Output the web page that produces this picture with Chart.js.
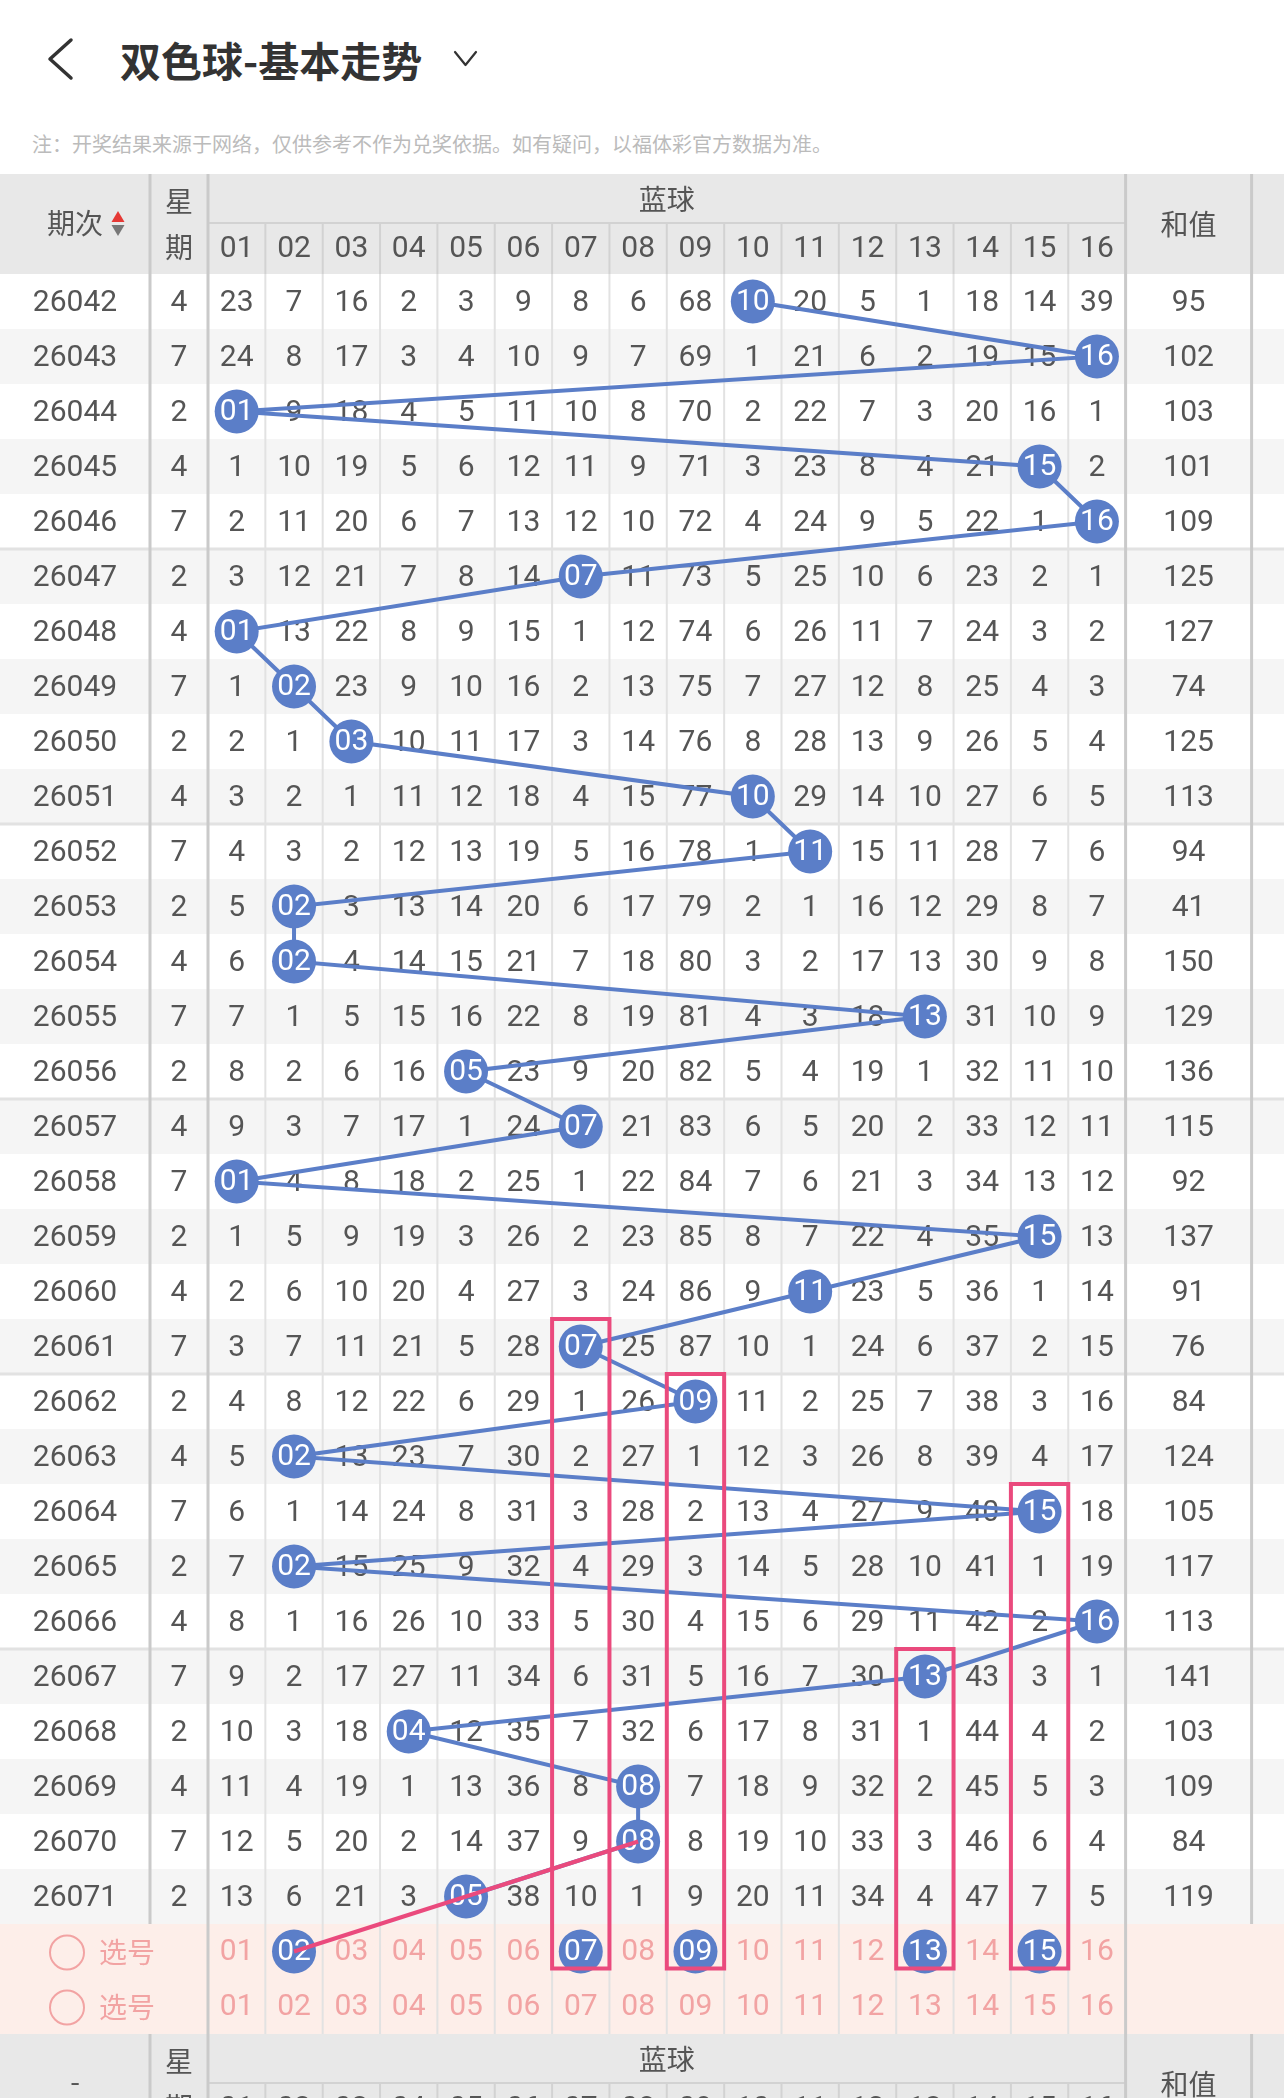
<!DOCTYPE html>
<html>
<head>
<meta charset="utf-8">
<title>双色球-基本走势</title>
<script src="https://cdn.jsdelivr.net/npm/chart.js@4.4.1/dist/chart.umd.min.js"></script>
<style>
  body{margin:0;background:#fff;width:1284px;height:2098px;overflow:hidden;font-family:"Noto Sans CJK SC",sans-serif;}
  #back{position:absolute;left:44px;top:37px;}
  #title{position:absolute;left:120px;top:30px;font-size:41px;font-weight:bold;color:#333;line-height:58px;}
  #arrow{position:absolute;left:452px;top:48px;}
  #note{position:absolute;left:32px;top:130px;font-size:20px;color:#bbb;line-height:28px;white-space:nowrap;}
  #wrap{position:absolute;left:0;top:174px;width:1284px;height:1924px;}
</style>
</head>
<body>
<svg id="back" width="32" height="44"><polyline points="27,3 6,22 27,41" fill="none" stroke="#333" stroke-width="3.5" stroke-linecap="round" stroke-linejoin="round"/></svg>
<div id="title">双色球-基本走势</div>
<svg id="arrow" width="28" height="22"><polyline points="3,4 13.5,17 24,4" fill="none" stroke="#333" stroke-width="2.2" stroke-linecap="round" stroke-linejoin="round"/></svg>
<div id="note">注：开奖结果来源于网络，仅供参考不作为兑奖依据。如有疑问，以福体彩官方数据为准。</div>
<div id="wrap"><canvas id="trend" width="1284" height="1924"></canvas></div>

<script>
var periods = ['26042','26043','26044','26045','26046','26047','26048','26049','26050','26051',
               '26052','26053','26054','26055','26056','26057','26058','26059','26060','26061',
               '26062','26063','26064','26065','26066','26067','26068','26069','26070','26071'];
var weekdays = [4,7,2,4,7,2,4,7,2,4,7,2,4,7,2,4,7,2,4,7,2,4,7,2,4,7,2,4,7,2];
var sums = [95,102,103,101,109,125,127,74,125,113,94,41,150,129,136,115,92,137,91,76,
            84,124,105,117,113,141,103,109,84,119];
// drawn blue ball of each period
var blueBalls = [10,16,1,15,16,7,1,2,3,10,11,2,2,13,5,7,1,15,11,7,9,2,15,2,16,13,4,8,8,5];
// omission values, 0 = the ball itself
var missing = [
  [23,7,16,2,3,9,8,6,68,0,20,5,1,18,14,39],
  [24,8,17,3,4,10,9,7,69,1,21,6,2,19,15,0],
  [0,9,18,4,5,11,10,8,70,2,22,7,3,20,16,1],
  [1,10,19,5,6,12,11,9,71,3,23,8,4,21,0,2],
  [2,11,20,6,7,13,12,10,72,4,24,9,5,22,1,0],
  [3,12,21,7,8,14,0,11,73,5,25,10,6,23,2,1],
  [0,13,22,8,9,15,1,12,74,6,26,11,7,24,3,2],
  [1,0,23,9,10,16,2,13,75,7,27,12,8,25,4,3],
  [2,1,0,10,11,17,3,14,76,8,28,13,9,26,5,4],
  [3,2,1,11,12,18,4,15,77,0,29,14,10,27,6,5],
  [4,3,2,12,13,19,5,16,78,1,0,15,11,28,7,6],
  [5,0,3,13,14,20,6,17,79,2,1,16,12,29,8,7],
  [6,0,4,14,15,21,7,18,80,3,2,17,13,30,9,8],
  [7,1,5,15,16,22,8,19,81,4,3,18,0,31,10,9],
  [8,2,6,16,0,23,9,20,82,5,4,19,1,32,11,10],
  [9,3,7,17,1,24,0,21,83,6,5,20,2,33,12,11],
  [0,4,8,18,2,25,1,22,84,7,6,21,3,34,13,12],
  [1,5,9,19,3,26,2,23,85,8,7,22,4,35,0,13],
  [2,6,10,20,4,27,3,24,86,9,0,23,5,36,1,14],
  [3,7,11,21,5,28,0,25,87,10,1,24,6,37,2,15],
  [4,8,12,22,6,29,1,26,0,11,2,25,7,38,3,16],
  [5,0,13,23,7,30,2,27,1,12,3,26,8,39,4,17],
  [6,1,14,24,8,31,3,28,2,13,4,27,9,40,0,18],
  [7,0,15,25,9,32,4,29,3,14,5,28,10,41,1,19],
  [8,1,16,26,10,33,5,30,4,15,6,29,11,42,2,0],
  [9,2,17,27,11,34,6,31,5,16,7,30,0,43,3,1],
  [10,3,18,0,12,35,7,32,6,17,8,31,1,44,4,2],
  [11,4,19,1,13,36,8,0,7,18,9,32,2,45,5,3],
  [12,5,20,2,14,37,9,0,8,19,10,33,3,46,6,4],
  [13,6,21,3,0,38,10,1,9,20,11,34,4,47,7,5]
];
var ballNums = ['01','02','03','04','05','06','07','08','09','10','11','12','13','14','15','16'];
var selected = [2,7,9,13,15];
var boxCols = [7,9,15,13];
var boxFrom = ['26061','26062','26064','26067'];
var linkFrom = '26070';
var linkTo = 2;

var BLUE = '#5b7ec8';
var PINK = '#ea4a7d';
var SEL_TXT = '#f2a3a3';

// layout (px)
var COLW = 57.35, ROWH = 55;
var W_PERIOD = 150, W_WEEK = 58, W_SUM = 126, W_STRIP = 32.4;
var HEAD_H = 100, HEAD_SPLIT = 49, CANVAS_H = 1924;
var X_WEEK = 0.5 - W_WEEK / COLW;
var X_MIN = X_WEEK - W_PERIOD / COLW;
var X_SUMR = 16.5 + W_SUM / COLW;
var X_MAX = X_SUMR + W_STRIP / COLW;
var Y_MIN = -0.5 - HEAD_H / ROWH;
var Y_MAX = Y_MIN + CANVAS_H / ROWH;
var SEL_ROWS = 2;

function vline(ctx, x, y0, y1, color, w){
  ctx.strokeStyle = color; ctx.lineWidth = w;
  ctx.beginPath(); ctx.moveTo(x, y0); ctx.lineTo(x, y1); ctx.stroke();
}
function hline(ctx, y, x0, x1, color, w){
  ctx.strokeStyle = color; ctx.lineWidth = w;
  ctx.beginPath(); ctx.moveTo(x0, y); ctx.lineTo(x1, y); ctx.stroke();
}

function drawHeader(chart, top, first){
  var ctx = chart.ctx, xs = chart.scales.x;
  var periodC = xs.getPixelForValue((X_MIN + X_WEEK) / 2);
  var weekC = xs.getPixelForValue((X_WEEK + 0.5) / 2);
  var sumC = xs.getPixelForValue((16.5 + X_SUMR) / 2);
  var gridC = xs.getPixelForValue(8.5);
  ctx.fillStyle = '#555';
  ctx.textAlign = 'center';
  ctx.textBaseline = 'middle';
  ctx.font = '28px "Noto Sans CJK SC"';
  if (first) {
    ctx.fillText('期次', periodC, top + 49);
    var tx = periodC + 43;
    ctx.fillStyle = '#e53935';
    ctx.beginPath(); ctx.moveTo(tx, top + 37); ctx.lineTo(tx + 6.5, top + 48); ctx.lineTo(tx - 6.5, top + 48); ctx.fill();
    ctx.fillStyle = '#777';
    ctx.beginPath(); ctx.moveTo(tx - 6.5, top + 51); ctx.lineTo(tx + 6.5, top + 51); ctx.lineTo(tx, top + 62); ctx.fill();
    ctx.fillStyle = '#555';
  } else {
    ctx.fillText('-', periodC, top + 47);
  }
  ctx.fillText('星', weekC, top + 27);
  ctx.fillText('期', weekC, top + 73);
  ctx.fillText('蓝球', gridC, top + 25);
  ctx.fillText('和值', sumC, top + 50);
  ctx.font = '30px Roboto';
  for (var n = 1; n <= 16; n++) {
    ctx.fillText(ballNums[n - 1], xs.getPixelForValue(n), top + 75);
  }
}

var tablePlugin = {
  id: 'trendTable',
  beforeDatasetsDraw: function(chart){
    var ctx = chart.ctx, xs = chart.scales.x, ys = chart.scales.y;
    var nRows = periods.length;
    var left = xs.getPixelForValue(X_MIN), right = xs.getPixelForValue(X_MAX);
    var weekL = xs.getPixelForValue(X_WEEK), gridL = xs.getPixelForValue(0.5);
    var gridR = xs.getPixelForValue(16.5), sumR = xs.getPixelForValue(X_SUMR);
    var headT = ys.getPixelForValue(Y_MIN), headB = ys.getPixelForValue(-0.5);
    var selT = ys.getPixelForValue(nRows - 0.5), selB = ys.getPixelForValue(nRows + SEL_ROWS - 0.5);
    var footB = ys.getPixelForValue(Y_MAX);
    ctx.save();
    // backgrounds
    ctx.fillStyle = '#e8e8e8';
    ctx.fillRect(left, headT, right - left, headB - headT);
    ctx.fillRect(left, selB, right - left, footB - selB);
    for (var i = 0; i < nRows; i++) {
      var t = ys.getPixelForValue(i - 0.5), b = ys.getPixelForValue(i + 0.5);
      ctx.fillStyle = i % 2 ? '#f5f5f5' : '#ffffff';
      ctx.fillRect(left, t, right - left, b - t);
    }
    ctx.fillStyle = '#fdeee9';
    ctx.fillRect(left, selT, right - left, selB - selT);

    // grid lines
    for (var n = 1; n < 16; n++) {
      var x = xs.getPixelForValue(n + 0.5);
      vline(ctx, x, headT + HEAD_SPLIT, headB, '#d2d2d2', 2);
      vline(ctx, x, headB, selB, '#e2e2e2', 2);
      vline(ctx, x, selB + HEAD_SPLIT, footB, '#d2d2d2', 2);
    }
    hline(ctx, headT + HEAD_SPLIT, gridL, gridR, '#d2d2d2', 2);
    hline(ctx, selB + HEAD_SPLIT, gridL, gridR, '#d2d2d2', 2);
    for (var g = 5; g < nRows; g += 5) {
      hline(ctx, ys.getPixelForValue(g - 0.5), left, right, '#e2e2e2', 3);
    }
    vline(ctx, weekL, headT, selT, '#cacaca', 3);
    vline(ctx, weekL, selB, footB, '#cacaca', 3);
    vline(ctx, gridL, headT, footB, '#cacaca', 3);
    vline(ctx, gridR, headT, footB, '#cacaca', 3);
    vline(ctx, sumR, headT, selT, '#cacaca', 3);
    vline(ctx, sumR, selB, footB, '#cacaca', 3);

    // headers
    drawHeader(chart, headT, true);
    drawHeader(chart, selB, false);

    // rows
    var periodC = xs.getPixelForValue((X_MIN + X_WEEK) / 2);
    var weekC = xs.getPixelForValue((X_WEEK + 0.5) / 2);
    var sumC = xs.getPixelForValue((16.5 + X_SUMR) / 2);
    ctx.font = '30px Roboto';
    ctx.textAlign = 'center';
    ctx.textBaseline = 'middle';
    ctx.fillStyle = '#555';
    for (var r = 0; r < nRows; r++) {
      var y = ys.getPixelForValue(r) + 2;
      ctx.fillText(periods[r], periodC, y);
      ctx.fillText(String(weekdays[r]), weekC, y);
      ctx.fillText(String(sums[r]), sumC, y);
      for (var c = 1; c <= 16; c++) {
        if (c == blueBalls[r]) continue;
        ctx.fillText(String(missing[r][c - 1]), xs.getPixelForValue(c), y);
      }
    }
    // select rows
    for (var s = 0; s < SEL_ROWS; s++) {
      var sy = ys.getPixelForValue(nRows + s) + 1;
      ctx.strokeStyle = SEL_TXT; ctx.lineWidth = 2;
      ctx.beginPath(); ctx.arc(left + 67, sy, 17, 0, Math.PI * 2); ctx.stroke();
      ctx.fillStyle = SEL_TXT;
      ctx.textAlign = 'left';
      ctx.font = '28px "Noto Sans CJK SC"';
      ctx.fillText('选号', left + 99, sy);
      ctx.textAlign = 'center';
      ctx.font = '30px Roboto';
      for (var k = 1; k <= 16; k++) {
        if (s == 0 && selected.indexOf(k) >= 0) continue;
        ctx.fillText(ballNums[k - 1], xs.getPixelForValue(k), sy);
      }
    }
    ctx.restore();
  },
  afterDatasetDraw: function(chart, args){
    if (args.index > 1) return;
    var ctx = chart.ctx;
    var ds = chart.data.datasets[args.index];
    ctx.save();
    ctx.fillStyle = '#fff';
    ctx.font = '30px Roboto';
    ctx.textAlign = 'center';
    ctx.textBaseline = 'middle';
    args.meta.data.forEach(function(pt, i){
      ctx.fillText(ballNums[ds.data[i].x - 1], pt.x, pt.y + 1);
    });
    ctx.restore();
  },
  afterDatasetsDraw: function(chart){
    var ctx = chart.ctx, xs = chart.scales.x, ys = chart.scales.y;
    var selY = ys.getPixelForValue(periods.length);
    ctx.save();
    ctx.strokeStyle = PINK;
    ctx.lineWidth = 4;
    for (var i = 0; i < boxCols.length; i++) {
      var l = xs.getPixelForValue(boxCols[i] - 0.5), r = xs.getPixelForValue(boxCols[i] + 0.5);
      var t = ys.getPixelForValue(periods.indexOf(boxFrom[i]) - 0.5);
      ctx.strokeRect(l, t, r - l, selY + 17 - t);
    }
    ctx.restore();
  }
};

var drawPoints = [];
for (var i = 0; i < blueBalls.length; i++) {
  drawPoints.push({x: blueBalls[i], y: i});
}
var selectPoints = [];
for (var j = 0; j < selected.length; j++) {
  selectPoints.push({x: selected[j], y: periods.length});
}
var linkIdx = periods.indexOf(linkFrom);
var linkPoints = [{x: blueBalls[linkIdx], y: linkIdx}, {x: linkTo, y: periods.length}];

var chart = new Chart(document.getElementById('trend'), {
  type: 'line',
  data: {
    datasets: [{
      label: '蓝球',
      data: drawPoints,
      borderColor: BLUE,
      backgroundColor: BLUE,
      borderWidth: 4,
      pointRadius: 22,
      pointHoverRadius: 22,
      pointBorderWidth: 0,
      pointBackgroundColor: BLUE,
      tension: 0,
      order: 3
    }, {
      label: '选号',
      data: selectPoints,
      showLine: false,
      backgroundColor: BLUE,
      pointRadius: 22,
      pointHoverRadius: 22,
      pointBorderWidth: 0,
      pointBackgroundColor: BLUE,
      order: 2
    }, {
      label: '连线',
      data: linkPoints,
      borderColor: PINK,
      borderWidth: 4,
      pointRadius: 0,
      pointHoverRadius: 0,
      order: 1
    }]
  },//end data
  options: {
    responsive: false,
    animation: false,
    devicePixelRatio: 1,
    events: [],
    layout: {padding: 0, autoPadding: false},
    plugins: {legend: {display: false}, tooltip: {enabled: false}},
    scales: {
      x: {type: 'linear', min: X_MIN, max: X_MAX, display: false},
      y: {type: 'linear', min: Y_MIN, max: Y_MAX, reverse: true, display: false}
    }
  },//end options
  plugins: [tablePlugin]
});
</script>
</body>
</html>
